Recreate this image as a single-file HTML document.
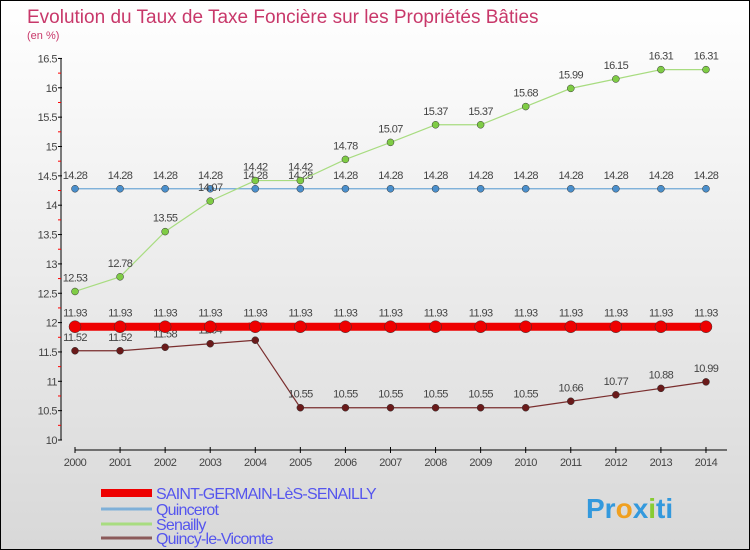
<!DOCTYPE html>
<html><head><meta charset="utf-8">
<style>
body{margin:0;}
#wrap{width:748px;height:548px;border:1px solid #000;position:relative;background:linear-gradient(#ffffff,#d8d8d8);font-family:"Liberation Sans",sans-serif;overflow:hidden;}
</style></head>
<body>
<div id="wrap">
<svg id="chart" width="748" height="548"></svg>
</div>
<script>
const years=[2000,2001,2002,2003,2004,2005,2006,2007,2008,2009,2010,2011,2012,2013,2014];
const yTicks=[10,10.5,11,11.5,12,12.5,13,13.5,14,14.5,15,15.5,16,16.5];
const saintGermain=[11.93,11.93,11.93,11.93,11.93,11.93,11.93,11.93,11.93,11.93,11.93,11.93,11.93,11.93,11.93];
const quincerot=[14.28,14.28,14.28,14.28,14.28,14.28,14.28,14.28,14.28,14.28,14.28,14.28,14.28,14.28,14.28];
const senailly=[12.53,12.78,13.55,14.07,14.42,14.42,14.78,15.07,15.37,15.37,15.68,15.99,16.15,16.31,16.31];
const quincy=[11.52,11.52,11.58,11.64,11.7,10.55,10.55,10.55,10.55,10.55,10.55,10.66,10.77,10.88,10.99];
const NS="http://www.w3.org/2000/svg";
const svg=document.getElementById('chart');
const x=i=>74+i*45.07;
const y=v=>439-(v-10)*58.7;
function mk(t,a){const e=document.createElementNS(NS,t);for(const k in a)e.setAttribute(k,a[k]);svg.appendChild(e);return e;}
function txt(s,a){const e=mk('text',a);e.textContent=s;return e;}
let t=txt('Evolution du Taux de Taxe Foncière sur les Propriétés Bâties',{x:26,y:22,'font-size':19,fill:'#c8386a'});


t=txt('(en %)',{x:26,y:38,'font-size':11,fill:'#c8386a'});


// y axis
let ax=mk('line',{x1:60,y1:58,x2:60,y2:439,stroke:'#000'});


yTicks.forEach(v=>{
 mk('line',{x1:57,x2:61,y1:y(v),y2:y(v),stroke:'#000'});
 if(v<16.5) mk('line',{x1:57,x2:60,y1:y(v+0.25),y2:y(v+0.25),stroke:'red'});
 const l=txt(String(v),{x:56,y:y(v)+4,'font-size':11,'text-anchor':'end',fill:'#444','letter-spacing':'-0.5'});
 
 
});
ax=mk('line',{x1:74,y1:449,x2:726,y2:449,stroke:'#000'});


years.forEach((yr,i)=>{
 mk('line',{x1:x(i),x2:x(i),y1:446,y2:452,stroke:'#000'});
 const l=txt(String(yr),{x:x(i),y:465,'font-size':11,'text-anchor':'middle',fill:'#444','letter-spacing':'-0.5'});
 
 
});
function series(data,color,dot,w,r,name){
 const p=mk('polyline',{points:data.map((v,i)=>x(i)+','+y(v)).join(' '),fill:'none',stroke:color,'stroke-width':w});
 
 
 data.forEach((v,i)=>{
  const c=mk('circle',{cx:x(i),cy:y(v),r:r,fill:dot,stroke:'#333','stroke-width':0.5});
  
  
  const l=txt(String(v),{x:x(i),y:y(v)-10,'font-size':11,'text-anchor':'middle',fill:'#444','letter-spacing':'-0.6'});
  
  
 });
}
series(quincerot,'#6fa8d6','#4a8fcc',1.2,3.5,'quincerot');
series(senailly,'#a8dc80','#7fcc45',1.2,3.5,'senailly');
series(quincy,'#7a2e2e','#6a1a1a',1.2,3.5,'quincy');
series(saintGermain,'#ee0000','#ee0000',8,6,'saint-germain');
const legend=[['SAINT-GERMAIN-LèS-SENAILLY','#ee0000',8,492],['Quincerot','#7fb0d8',3,508],['Senailly','#a8dc80',3,523],['Quincy-le-Vicomte','#8b5a5a',3,537]];
legend.forEach(([n,c,w,yy])=>{
 const g=mk('line',{x1:100,x2:151,y1:yy,y2:yy,stroke:c,'stroke-width':w});
 
 
 const l=txt(n,{x:155,y:yy+6,'font-size':16,fill:'#5555ee','letter-spacing':'-0.8'});
 
 
});
const logo=txt('',{x:585,y:517,'font-size':28,'font-weight':'bold'});


[['Pr','#3399dd'],['o','#f0a020'],['x','#3399dd'],['i','#88cc33'],['ti','#3399dd']].forEach(([s,c])=>{const ts=document.createElementNS(NS,'tspan');ts.setAttribute('fill',c);ts.textContent=s;logo.appendChild(ts);});
</script>
</body></html>
